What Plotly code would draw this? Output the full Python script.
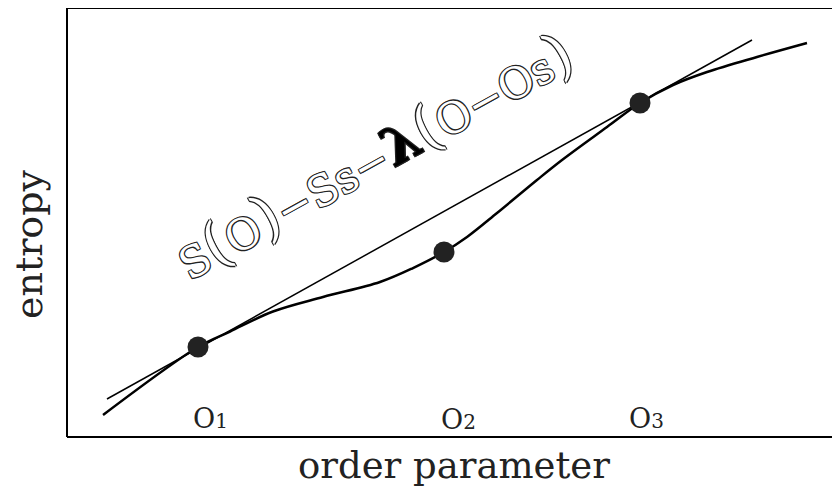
import plotly.graph_objects as go

# entropy curve s(O) (abstract units)
curve_x = [0.466, 1.695, 2.109, 2.665, 3.312, 4.049, 4.476, 4.877, 5.175, 5.563, 6.080, 6.404, 6.986, 7.413, 7.840, 8.280, 8.926, 9.573]
curve_y = [0.513, 2.098, 2.459, 2.925, 3.263, 3.613, 3.939, 4.312, 4.662, 5.221, 5.991, 6.457, 7.226, 7.786, 8.205, 8.508, 8.858, 9.184]

# common tangent line
tangent_x = [0.517, 8.862]
tangent_y = [0.886, 9.254]

# marked points O1, O2, O3
point_x = [1.695, 4.877, 7.413]
point_y = [2.098, 4.312, 7.786]

label_names = ["O", "O", "O"]
label_subs = ["1", "2", "3"]
label_x = [1.85, 5.06, 7.50]
label_y = [0.44, 0.40, 0.44]

formula_x = 3.97
formula_y = 6.55

SERIF = "DejaVu Serif"

fig = go.Figure()
fig.add_trace(go.Scatter(x=tangent_x, y=tangent_y, mode="lines",
                         line=dict(color="black", width=1.5), hoverinfo="skip"))
fig.add_trace(go.Scatter(x=curve_x, y=curve_y, mode="lines",
                         line=dict(color="black", width=2.5, shape="spline", smoothing=1.0),
                         hoverinfo="skip"))
fig.add_trace(go.Scatter(x=point_x, y=point_y, mode="markers",
                         marker=dict(color="#222222", size=21, line=dict(width=0)),
                         hoverinfo="skip"))

annotations = []
for n, s, lx, ly in zip(label_names, label_subs, label_x, label_y):
    annotations.append(dict(
        x=lx, y=ly, xref="x", yref="y", showarrow=False,
        text=f"{n}<span style='font-size:20px'>{s}</span>",
        font=dict(family=SERIF, size=27, color="#222222"),
        xanchor="center", yanchor="middle"))

annotations.append(dict(
    x=formula_x, y=formula_y, xref="x", yref="y", showarrow=False,
    text="S<span style='font-size:58px'>(</span>O<span style='font-size:58px'>)</span>−Ss−"
         "<span style='color:black;font-size:52px'><b>λ</b></span>"
         "<span style='font-size:58px'>(</span>O−Os<span style='font-size:58px'>)</span>",
    textangle=-29,
    font=dict(family=SERIF, size=43, color="white",
              shadow="-1px -1px 0 #222, 1px -1px 0 #222, -1px 1px 0 #222, 1px 1px 0 #222"),
    xanchor="center", yanchor="middle"))

annotations.append(dict(
    x=0.5, y=-0.118, xref="paper", yref="paper", showarrow=False,
    text="order parameter", font=dict(family=SERIF, size=37, color="#222222"),
    xanchor="center", yanchor="bottom", borderpad=0))
annotations.append(dict(
    x=-0.049, y=0.45, xref="paper", yref="paper", showarrow=False,
    text="entropy", textangle=-90, font=dict(family=SERIF, size=38, color="#222222"),
    xanchor="center", yanchor="middle"))

shapes = [
    dict(type="line", xref="paper", yref="paper", x0=0, y0=0, x1=0, y1=1, line=dict(color="black", width=2)),
    dict(type="line", xref="paper", yref="paper", x0=0, y0=1, x1=1, y1=1, line=dict(color="black", width=2)),
    dict(type="line", xref="paper", yref="paper", x0=0, y0=0, x1=1, y1=0, line=dict(color="black", width=2)),
]

fig.update_layout(
    width=840, height=489,
    margin=dict(l=59, r=8, t=0, b=60),
    paper_bgcolor="white", plot_bgcolor="white",
    showlegend=False,
    annotations=annotations, shapes=shapes,
    xaxis=dict(range=[0, 10], showgrid=False, zeroline=False, showticklabels=False, ticks="", showline=False),
    yaxis=dict(range=[0, 10], showgrid=False, zeroline=False, showticklabels=False, ticks="", showline=False),
)

fig.write_html("out.html")
